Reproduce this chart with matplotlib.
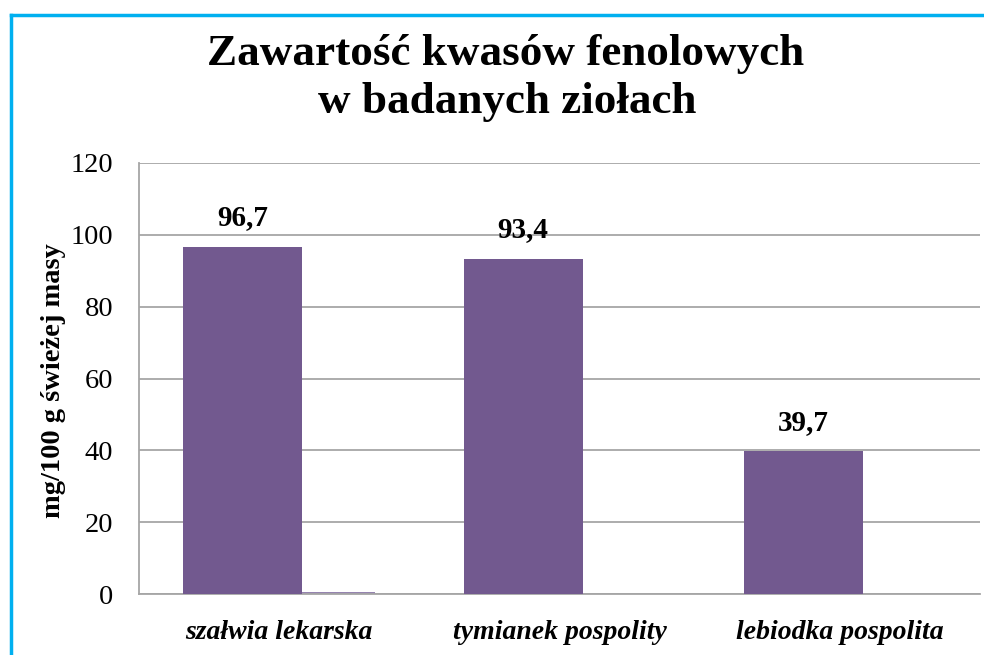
import matplotlib
matplotlib.use("Agg")
import matplotlib.pyplot as plt
from matplotlib.lines import Line2D
import numpy as np

categories = ["szałwia lekarska", "tymianek pospolity", "lebiodka pospolita"]
series_main = [96.7, 93.4, 39.7]
series_second = [0.5, 0.0, 0.0]
labels_main = ["96,7", "93,4", "39,7"]
yticks = [0, 20, 40, 60, 80, 100, 120]

title_line1 = "Zawartość kwasów fenolowych"
title_line2 = "w badanych ziołach"
ylabel = "mg/100 g świeżej masy"

plt.rcParams['font.family'] = ['Liberation Serif', 'DejaVu Serif']

fig = plt.figure(figsize=(9.84, 6.55), dpi=100)
W, H = 984, 655
ax = fig.add_axes([139 / W, 1 - 594 / H, 841 / W, 431 / H])

x = np.arange(len(categories))
bw = 0.4245
off = 0.130
c1 = "#72598F"
c2 = "#9684B0"
ax.bar(x + off, series_second, width=bw, color=c2, zorder=2)
ax.bar(x - off, series_main, width=bw, color=c1, zorder=3)

for xi, v, lab in zip(x, series_main, labels_main):
    ax.annotate(lab, (xi - off, v), xytext=(0, 11), textcoords="offset points",
                ha="center", va="bottom", fontsize=21, fontweight="bold", color="black",
                zorder=5)

ax.set_xlim(-0.5, 2.5)
ax.set_ylim(0, 120)
ax.set_yticks(yticks)
ax.set_yticklabels([str(t) for t in yticks], fontsize=20.5)
ax.set_xticks(x)
ax.set_xticklabels(categories, fontsize=20, fontweight="bold", fontstyle="italic")
ax.tick_params(axis="y", length=0, pad=18.5)
ax.tick_params(axis="x", length=0, pad=18.5)
ax.grid(axis="y", color="#A6A6A6", linewidth=1.3, zorder=0)
ax.set_axisbelow(True)
for s in ["top", "right"]:
    ax.spines[s].set_visible(False)
for s in ["left", "bottom"]:
    ax.spines[s].set_color("#A6A6A6")
    ax.spines[s].set_linewidth(1.3)

fig.text(53 / W, 1 - 381 / H, ylabel, rotation=90, ha="center", va="center",
         fontsize=20.5, fontweight="bold")
fig.text(506 / W, 1 - 65 / H, title_line1, ha="center", va="baseline", fontsize=32.5,
         fontweight="bold")
fig.text(507 / W, 1 - 113 / H, title_line2, ha="center", va="baseline", fontsize=32.5,
         fontweight="bold")

# cyan frame
fig.add_artist(Line2D([11 / W, 11 / W], [0, 1 - 15 / H], color="#00B0F0", lw=2.5,
                      transform=fig.transFigure))
fig.add_artist(Line2D([11 / W, 1], [1 - 15 / H, 1 - 15 / H], color="#00B0F0", lw=2.5,
                      transform=fig.transFigure))

fig.savefig("out.png", dpi=100)
